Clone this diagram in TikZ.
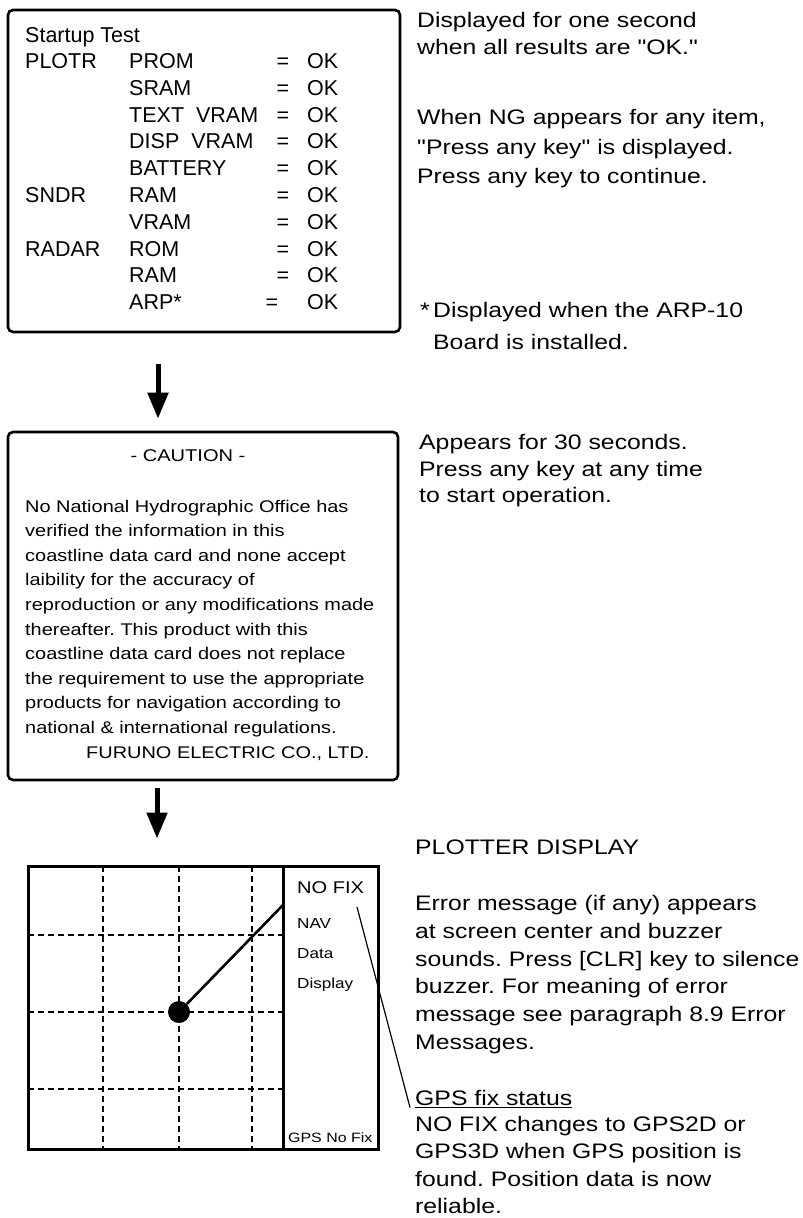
\documentclass[tikz,border=0pt]{standalone}
\usepackage{fontspec}
\setmainfont{Liberation Sans}[FakeStretch=1.18, Ligatures=TeXOff]
\newfontfamily\screenfont{Liberation Sans}
\usepackage{tikz}
\usetikzlibrary{arrows.meta, positioning, calc}
\tikzstyle{panel} = [rectangle, draw=black, line width=2.6pt, rounded corners=5pt, inner sep=0pt]
\tikzstyle{note} = [anchor=base west, align=left, inner sep=0pt, font=\fontsize{21}{28}\selectfont]
\tikzstyle{cell} = [anchor=base west, inner sep=0pt, font=\screenfont\fontsize{21.5}{26}\selectfont]
\tikzstyle{label} = [anchor=base west, inner sep=0pt, font=\fontsize{14.5}{14.5}\selectfont]
\tikzstyle{bigarrow} = [line width=5pt, -{Triangle[length=26pt,width=20pt]}]
\tikzstyle{gridline} = [dash pattern=on 6pt off 4pt, line width=1.6pt]

\begin{document}
\frenchspacing
\begin{tikzpicture}[x=1pt, y=-1pt]
        \useasboundingbox (0,0) rectangle (803,1218);

        \node (startup) [panel, minimum width=392pt, minimum height=322pt] at (204,171) {};
        \node (startuptitle) [cell] at (25,42.5) {Startup Test};
        \foreach \grp/\item/\eqx [count=\r] in {PLOTR/PROM/283, /SRAM/283, /{TEXT\ \ VRAM}/283, /{DISP\ \ VRAM}/283, /BATTERY/283, SNDR/RAM/283, /VRAM/283, RADAR/ROM/283, /RAM/283, /ARP*/272} {
            \node (grp\r) [cell] at (25,{68.5+(\r-1)*26.8}) {\grp};
            \node (item\r) [cell] at (129,{68.5+(\r-1)*26.8}) {\item};
            \node (eq\r) [cell, anchor=base] at (\eqx,{68.5+(\r-1)*26.8}) {=};
            \node (ok\r) [cell] at (307,{68.5+(\r-1)*26.8}) {OK};
        }
        \node (okinfo) [note, font=\fontsize{21}{27}\selectfont] at (417,54.5) {Displayed for one second\\when all results are "OK."};
        \node (nginfo) [note, font=\fontsize{21}{29.5}\selectfont] at (417,183.5) {When NG appears for any item,\\"Press any key" is displayed.\\Press any key to continue.};
        \node (arpinfo) [note, font=\fontsize{21}{32}\selectfont] at (433,349.5) {\llap{*\,}Displayed when the ARP-10\\Board is installed.};

        \node (caution) [panel, minimum width=390pt, minimum height=348pt] at (203,606) {};
        \node (cautiontitle) [anchor=base, inner sep=0pt, font=\fontsize{17}{24.6}\selectfont] at (188,461) {- CAUTION -};
        \node (cautiontext) [note, font=\fontsize{16.9}{24.6}\selectfont] at (25,758) {No National Hydrographic Office has\\verified the information in this\\coastline data card and none accept\\laibility for the accuracy of\\reproduction or any modifications made\\thereafter. This product with this\\coastline data card does not replace\\the requirement to use the appropriate\\products for navigation according to\\national \& international regulations.\\\hspace*{61pt}FURUNO ELECTRIC CO., LTD.};
        \node (cautioninfo) [note, font=\fontsize{21}{26.7}\selectfont] at (419,502.9) {Appears for 30 seconds.\\Press any key at any time\\to start operation.};

        \draw [bigarrow, shorten <=31pt, shorten >=12pt] ([xshift=-46pt]startup.south) -- ([xshift=-45pt]caution.north);

        \node (plotter) [rectangle, draw=black, line width=3pt, minimum width=350pt, minimum height=283pt, inner sep=0pt] at (203,1007.5) {};
        \draw [bigarrow, shorten <=7pt, shorten >=26pt] ([xshift=-46pt]caution.south) -- ([xshift=-46pt]plotter.north);

        \foreach \gx in {103,179,252}
            \draw [gridline] (\gx,866) -- (\gx,1149);
        \foreach \gy in {935,1012,1089}
            \draw [gridline] (28,\gy) -- (283,\gy);
        \draw [line width=3pt] (283,866) -- (283,1149);

        \node (ownship) [circle, fill=black, minimum size=22pt, inner sep=0pt] at (179,1012) {};
        \coordinate (cursor) at (283,905);
        \draw [line width=2.6pt] (ownship) -- (cursor);

        \node (nofix) [label, font=\fontsize{17}{17}\selectfont] at (297,893.1) {NO FIX};
        \node (nav) [label] at (297,928.2) {NAV};
        \node (data) [label] at (297,958.2) {Data};
        \node (display) [label] at (297,988.2) {Display};
        \node (gpsnofix) [label, font=\fontsize{13.5}{13.5}\selectfont] at (288,1142.8) {GPS No Fix};

        \node (plotterhead) [note] at (415,854.5) {PLOTTER DISPLAY};
        \node (errinfo) [note, font=\fontsize{21}{27.8}\selectfont] at (415,1049.5) {Error message (if any) appears\\at screen center and buzzer\\sounds. Press [CLR] key to silence\\buzzer. For meaning of error\\message see paragraph 8.9 Error\\Messages.};
        \node (gpsfix) [note] at (415,1105.5) {\underline{GPS fix status}};
        \node (fixinfo) [note, font=\fontsize{21}{27.5}\selectfont] at (415,1213.5) {NO FIX changes to GPS2D or\\GPS3D when GPS position is\\found. Position data is now\\reliable.};

        \coordinate (leadstart) at (357,907);
        \draw [line width=1.2pt] (leadstart) -- ([xshift=-5pt,yshift=-2pt]gpsfix.base west);
    \end{tikzpicture}
\end{document}
